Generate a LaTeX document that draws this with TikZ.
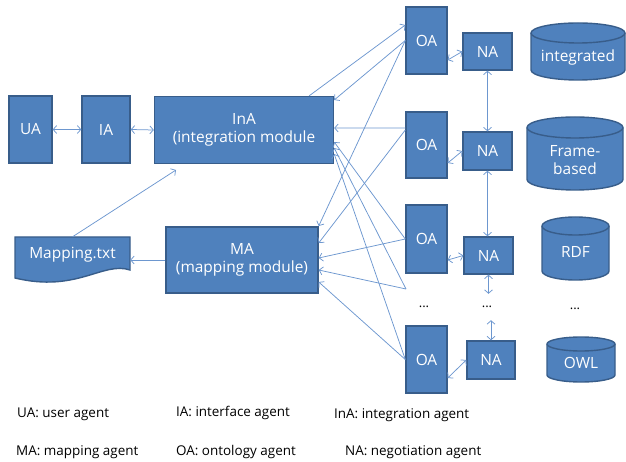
\documentclass[tikz,border=0pt]{standalone}
\usepackage{fontspec}
\setmainfont{Open Sans}
\usetikzlibrary{arrows.meta}
\definecolor{boxFillColor}{HTML}{4F81BD}
\definecolor{boxLineColor}{HTML}{385D8A}
\definecolor{linkColor}{HTML}{6D97CF}
\def\textUA{UA: user agent}
\def\textIA{IA: interface agent}
\def\textInA{InA: integration agent}
\def\textMA{MA: mapping agent}
\def\textOA{OA: ontology agent}
\def\textNA{NA: negotiation agent}
\tikzset{
  agent/.style={draw=boxLineColor, line width=1.4bp, fill=boxFillColor,
    text=white, inner sep=0pt, align=center, font=\fontsize{15.5}{18.5}\selectfont},
  shapeFill/.style={draw=boxLineColor, line width=1.4bp, fill=boxFillColor},
  shapeText/.style={text=white, inner sep=0pt, align=center, font=\fontsize{15.5}{18.5}\selectfont},
  gap/.style={inner sep=0pt, minimum height=26bp, font=\fontsize{13}{15}\selectfont},
  link/.style={color=linkColor, line width=0.75bp},
  oneway/.style={link, -{Straight Barb[length=3.5bp,width=8bp]}},
  twoway/.style={link, {Straight Barb[length=3.5bp,width=8bp]}-{Straight Barb[length=3.5bp,width=8bp]}},
  legend/.style={anchor=west, inner sep=0pt, font=\fontsize{13.5}{16}\selectfont},
}

\begin{document}
\begin{tikzpicture}[x=1bp,y=-1bp]
\useasboundingbox (0, 0) rectangle (626, 462);

% agent layer
\begin{scope}
\node[agent, minimum width=43bp, minimum height=67bp] (UA) at (30.5, 129.5) {UA};
\node[agent, minimum width=48bp, minimum height=67bp] (IA) at (106, 129.5) {IA};
\node[agent, minimum width=179bp, minimum height=67bp] (InA) at (244, 130) {InA\\(integration module};
\node[agent, minimum width=152bp, minimum height=66bp] (MA) at (242, 260) {MA\\(mapping module)};
\node[agent, minimum width=41bp, minimum height=67bp] (OA1) at (426.5, 40.5) {OA};
\node[agent, minimum width=41bp, minimum height=66bp] (OA2) at (426.5, 145) {OA};
\node[agent, minimum width=41bp, minimum height=68bp] (OA3) at (426.5, 239) {OA};
\node[agent, minimum width=41bp, minimum height=67bp] (OA4) at (426.5, 359.5) {OA};
\node[agent, minimum width=49bp, minimum height=37bp] (NA1) at (487.5, 51.5) {NA};
\node[agent, minimum width=49bp, minimum height=38bp] (NA2) at (487.5, 151) {NA};
\node[agent, minimum width=49bp, minimum height=37bp] (NA3) at (488.5, 255.5) {NA};
\node[agent, minimum width=48bp, minimum height=38bp] (NA4) at (491, 360) {NA};
\end{scope}

% mapping file
\begin{scope}[shift={(15, 237)}]
\filldraw[shapeFill] (0, 0) -- (115, 0) -- (115, 33)
.. controls (88, 24) and (62, 56) .. (0, 41) -- cycle;
\end{scope}
\node[shapeText, minimum width=115bp, minimum height=36bp] (map) at (72.5, 255) {Mapping.txt};

% store layer
\begin{scope}[shift={(531, 23)}]
\filldraw[shapeFill] (0, 10) -- (0, 47) arc[start angle=180, end angle=0, x radius=47, y radius=10]
-- (94, 10) arc[start angle=0, end angle=-180, x radius=47, y radius=10] -- cycle;
\draw[shapeFill, fill=none] (0, 10) arc[start angle=180, end angle=0, x radius=47, y radius=10];
\end{scope}
\node[shapeText] (st1) at (578, 57) {integrated};
\begin{scope}[shift={(527, 117)}]
\filldraw[shapeFill] (0, 10.5) -- (0, 62.5) arc[start angle=180, end angle=0, x radius=48, y radius=10.5]
-- (96, 10.5) arc[start angle=0, end angle=-180, x radius=48, y radius=10.5] -- cycle;
\draw[shapeFill, fill=none] (0, 10.5) arc[start angle=180, end angle=0, x radius=48, y radius=10.5];
\end{scope}
\node[shapeText] (st2) at (575, 160) {Frame-\\based};
\begin{scope}[shift={(542, 217)}]
\filldraw[shapeFill] (0, 9) -- (0, 54) arc[start angle=180, end angle=0, x radius=33.5, y radius=9]
-- (67, 9) arc[start angle=0, end angle=-180, x radius=33.5, y radius=9] -- cycle;
\draw[shapeFill, fill=none] (0, 9) arc[start angle=180, end angle=0, x radius=33.5, y radius=9];
\end{scope}
\node[shapeText] (st3) at (575.5, 252) {RDF};
\begin{scope}[shift={(547, 337)}]
\filldraw[shapeFill] (0, 7) -- (0, 38) arc[start angle=180, end angle=0, x radius=34, y radius=7]
-- (68, 7) arc[start angle=0, end angle=-180, x radius=34, y radius=7] -- cycle;
\draw[shapeFill, fill=none] (0, 7) arc[start angle=180, end angle=0, x radius=34, y radius=7];
\end{scope}
\node[shapeText] (st4) at (581, 363) {OWL};

% gaps
\node[gap] (oaDots) at (424, 307) {...};
\node[gap] (naDots) at (487, 307) {...};
\node[gap] (stDots) at (575, 309) {...};
\coordinate (oaLink) at (406, 289);
\coordinate (inaFoot) at (176, 170);

% link layer
\begin{scope}
\draw[twoway] (UA.east) -- (IA.west);
\draw[twoway] (IA.east) -- (InA.west);
\draw[oneway] (map.north) -- (inaFoot);
\draw[oneway] (MA.west) -- (MA.west -| map.east);
\draw[oneway] ([xshift=-25bp]InA.north east) -- ([yshift=15.5bp]OA1.west);
\draw[oneway] (OA1.west) -- ([yshift=30bp]InA.east);
\draw[oneway] (OA1.west) -- ([yshift=34bp]MA.east);
\draw[oneway] ([yshift=17bp]OA2.west) -- ([yshift=2bp]InA.east);
\draw[oneway] ([yshift=15bp]OA2.west) -- ([yshift=17bp]MA.east);
\draw[oneway] (OA3.west) -- ([yshift=-12bp]InA.east);
\draw[oneway] (OA3.west) -- ([yshift=2bp]MA.east);
\draw[oneway] (oaLink) -- ([yshift=-18bp]InA.east);
\draw[oneway] (oaLink) -- ([yshift=-10bp]MA.east);
\draw[oneway] (OA4.west) -- ([yshift=-24bp]InA.east);
\draw[oneway] (OA4.west) -- ([yshift=-22bp]MA.east);
\draw[twoway] ([yshift=-19.5bp]OA1.east) -- (NA1.west);
\draw[twoway] ([yshift=-18bp]OA2.east) -- (NA2.west);
\draw[twoway] ([yshift=-21bp]OA3.east) -- (NA3.west);
\draw[twoway] ([yshift=-18.5bp]OA4.east) -- (NA4.west);
\draw[twoway] (NA1.south) -- (NA2.north);
\draw[twoway] (NA2.south) -- (NA2.south |- NA3.north);
\draw[twoway] (NA3.south) -- (NA3.south |- naDots.north);
\draw[twoway] (naDots.south -| NA4.north) -- (NA4.north);
\end{scope}

% legend
\begin{scope}
\node[legend] (lgUA) at (17, 414) {\textUA};
\node[legend] (lgIA) at (176, 413) {\textIA};
\node[legend] (lgInA) at (334, 415) {\textInA};
\node[legend] (lgMA) at (16, 452) {\textMA};
\node[legend] (lgOA) at (176, 452) {\textOA};
\node[legend] (lgNA) at (345, 452) {\textNA};
\end{scope}
\end{tikzpicture}
\end{document}
